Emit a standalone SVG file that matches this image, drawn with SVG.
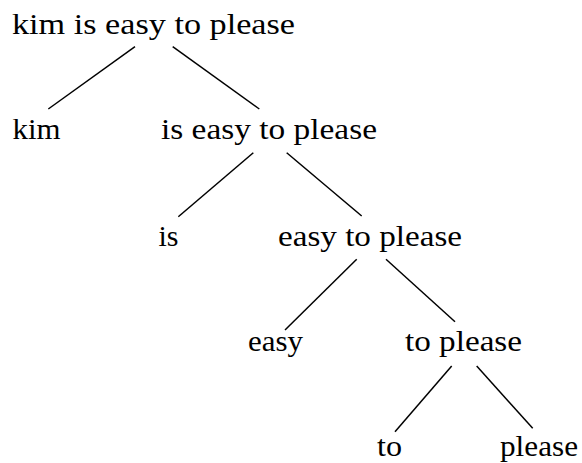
<svg xmlns="http://www.w3.org/2000/svg" width="582" height="463" viewBox="0 0 582 463">
<style>
.t{font-family:'Liberation Serif','Times New Roman',serif;font-size:29px;fill:#000}
.e line{stroke:#000;stroke-width:1.5;stroke-linecap:butt}
</style>
<rect width="582" height="463" fill="#fff"/>
<g class="e" id="connectors">
<line x1="135" y1="46.7" x2="48.3" y2="109"/>
<line x1="172.7" y1="46.7" x2="259.3" y2="109"/>
<line x1="253.3" y1="152.7" x2="178.3" y2="216.7"/>
<line x1="286.7" y1="152.7" x2="361.7" y2="216"/>
<line x1="356.7" y1="259.3" x2="285" y2="330"/>
<line x1="386" y1="259.3" x2="455" y2="321.7"/>
<line x1="451.7" y1="366" x2="395" y2="431.7"/>
<line x1="476.7" y1="366" x2="532.7" y2="428.3"/>
</g>
<g id="n1"><text class="t" x="12" y="33.7" textLength="283" lengthAdjust="spacingAndGlyphs">kim is easy to please</text></g>
<g id="n2"><text class="t" x="12.5" y="139" textLength="48" lengthAdjust="spacingAndGlyphs">kim</text></g>
<g id="n3"><text class="t" x="161" y="139" textLength="216" lengthAdjust="spacingAndGlyphs">is easy to please</text></g>
<g id="n4"><text class="t" x="158.5" y="246" textLength="20" lengthAdjust="spacingAndGlyphs">is</text></g>
<g id="n5"><text class="t" x="278" y="246" textLength="184" lengthAdjust="spacingAndGlyphs">easy to please</text></g>
<g id="n6"><text class="t" x="248" y="351" textLength="55" lengthAdjust="spacingAndGlyphs">easy</text></g>
<g id="n7"><text class="t" x="405" y="351" textLength="117" lengthAdjust="spacingAndGlyphs">to please</text></g>
<g id="n8"><text class="t" x="377" y="455.7" textLength="25" lengthAdjust="spacingAndGlyphs">to</text></g>
<g id="n9"><text class="t" x="500" y="455.7" textLength="78" lengthAdjust="spacingAndGlyphs">please</text></g>
</svg>
